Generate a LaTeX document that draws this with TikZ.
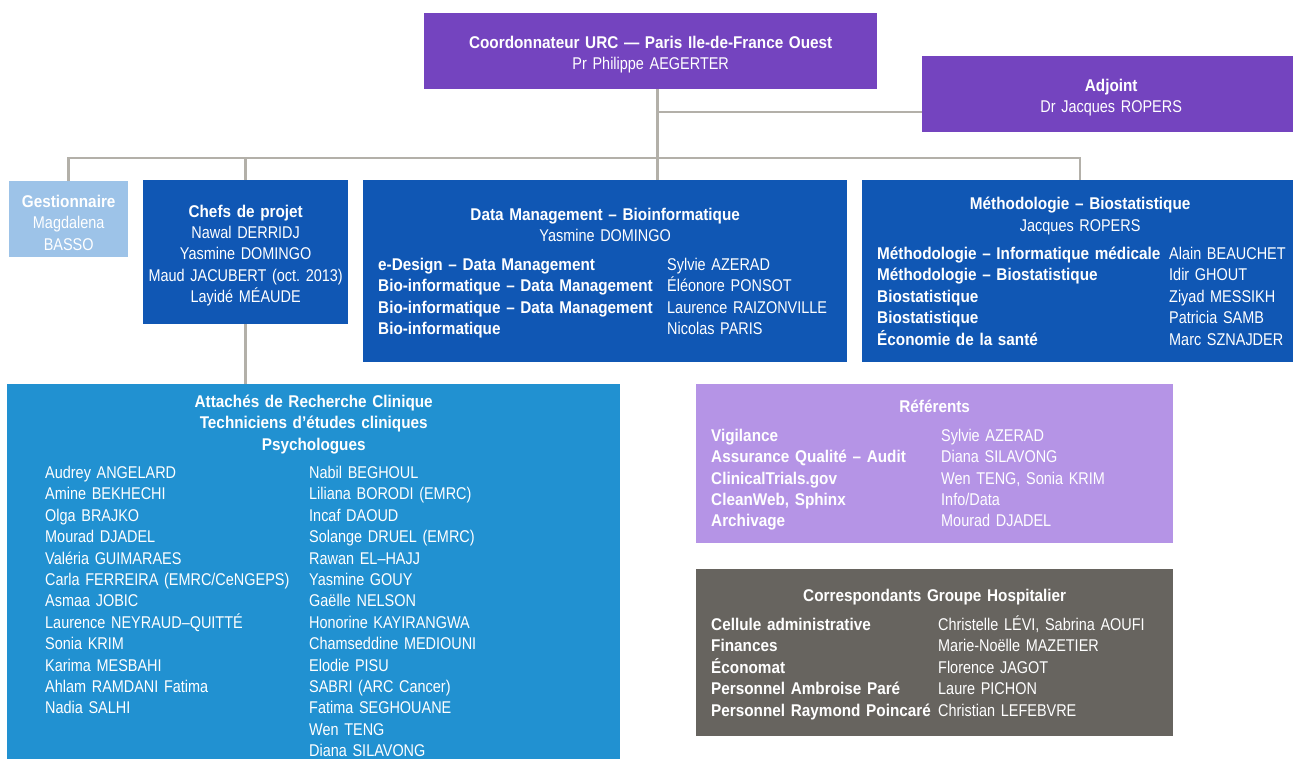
\documentclass[tikz,border=0pt]{standalone}
\usepackage{fontspec,array}
\setmainfont{Liberation Sans}[UprightFeatures={FakeStretch=0.85},BoldFeatures={FakeStretch=0.9}]
\usetikzlibrary{positioning}
\definecolor{urcpurple}{HTML}{7444BF}
\definecolor{urcblue}{HTML}{1057B4}
\definecolor{gestblue}{HTML}{9DC3E8}
\definecolor{arcblue}{HTML}{2191D1}
\definecolor{reflilac}{HTML}{B594E6}
\definecolor{corrgrey}{HTML}{67645F}
\definecolor{linkgrey}{HTML}{B3B0A9}
\newcommand\headstrut[1][19pt]{\rule{0pt}{#1}}

\begin{document}
\begin{tikzpicture}[x=1pt,y=-1pt,
 box/.style={fill=#1,text=white,inner sep=0pt,minimum height=76pt,align=center,
  font=\fontsize{17}{21.4}\selectfont,anchor=north west,execute at begin node=\headstrut},
 link/.style={draw=linkgrey,line width=2.5pt}]
\path[use as bounding box,fill=white] (0,0) rectangle (1293,758);
\node[box=urcpurple,minimum width=453pt,text width=453pt] (coord) at (424,13)
 {\textbf{Coordonnateur URC — Paris Ile-de-France Ouest}\\Pr Philippe AEGERTER};
\node[box=urcpurple,minimum width=378pt,text width=378pt] (adj) at (922,56) {\textbf{Adjoint}\\Dr Jacques ROPERS};
\node[box=gestblue,minimum width=119pt,text width=119pt,execute at begin node={\headstrut[15pt]}] (gest) at (9,181)
 {\textbf{Gestionnaire}\\Magdalena\\BASSO};
\node[box=urcblue,minimum width=205pt,text width=205pt,minimum height=144pt] (chefs) at (143,180)
 {\textbf{Chefs de projet}\\Nawal DERRIDJ\\Yasmine DOMINGO\\Maud JACUBERT (oct.\ 2013)\\Layidé MÉAUDE};
\node[box=urcblue,minimum width=484pt,minimum height=182pt,text width=454pt] (dm) at (363,180)
 {\textbf{Data Management – Bioinformatique}\\Yasmine DOMINGO\\[7pt]
 \makebox[454pt][l]{\begin{tabular}[t]{@{}>{\bfseries}p{289pt}@{}l@{}}
 e-Design – Data Management & Sylvie AZERAD\\
 Bio-informatique – Data Management & Éléonore PONSOT\\
 Bio-informatique – Data Management & Laurence RAIZONVILLE\\
 Bio-informatique & Nicolas PARIS
 \end{tabular}}};
\node[box=urcblue,minimum width=436pt,minimum height=182pt,text width=406pt] (meth) at (862,180)
 {\textbf{Méthodologie – Biostatistique}\\Jacques ROPERS\\[7pt]
 \makebox[406pt][l]{\begin{tabular}[t]{@{}>{\bfseries}p{292pt}@{}l@{}}
 Méthodologie – Informatique médicale & Alain BEAUCHET\\
 Méthodologie – Biostatistique & Idir GHOUT\\
 Biostatistique & Ziyad MESSIKH\\
 Biostatistique & Patricia SAMB\\
 Économie de la santé & Marc SZNAJDER
 \end{tabular}}};
\node[box=arcblue,minimum width=613pt,text width=537pt,inner ysep=4pt] (arc) at (7,384)
 {\textbf{Attachés de Recherche Clinique}\\\textbf{Techniciens d’études cliniques}\\\textbf{Psychologues}\\[7pt]
 \makebox[537pt][l]{\begin{tabular}[t]{@{}p{264pt}@{}l@{}}
 Audrey ANGELARD & Nabil BEGHOUL\\
 Amine BEKHECHI & Liliana BORODI (EMRC)\\
 Olga BRAJKO & Incaf DAOUD\\
 Mourad DJADEL & Solange DRUEL (EMRC)\\
 Valéria GUIMARAES & Rawan EL–HAJJ\\
 Carla FERREIRA (EMRC/CeNGEPS) & Yasmine GOUY\\
 Asmaa JOBIC & Gaëlle NELSON\\
 Laurence NEYRAUD–QUITTÉ & Honorine KAYIRANGWA\\
 Sonia KRIM & Chamseddine MEDIOUNI\\
 Karima MESBAHI & Elodie PISU\\
 Ahlam RAMDANI Fatima & SABRI (ARC Cancer)\\
 Nadia SALHI & Fatima SEGHOUANE\\
 & Wen TENG\\
 & Diana SILAVONG
 \end{tabular}}};
\node[box=reflilac,minimum width=477pt,minimum height=159pt,text width=447pt] (ref) at (696,384)
 {\textbf{Référents}\\[7pt]
 \makebox[447pt][l]{\begin{tabular}[t]{@{}>{\bfseries}p{230pt}@{}l@{}}
 Vigilance & Sylvie AZERAD\\
 Assurance Qualité – Audit & Diana SILAVONG\\
 ClinicalTrials.gov & Wen TENG, Sonia KRIM\\
 CleanWeb, Sphinx & Info/Data\\
 Archivage & Mourad DJADEL
 \end{tabular}}};
\node[box=corrgrey,minimum width=477pt,minimum height=167pt,text width=447pt] (corr) at (696,569)
 {\textbf{Correspondants Groupe Hospitalier}\\[7pt]
 \makebox[447pt][l]{\begin{tabular}[t]{@{}>{\bfseries}p{227pt}@{}l@{}}
 Cellule administrative & Christelle LÉVI, Sabrina AOUFI\\
 Finances & Marie-Noëlle MAZETIER\\
 Économat & Florence JAGOT\\
 Personnel Ambroise Paré & Laure PICHON\\
 Personnel Raymond Poincaré & Christian LEFEBVRE
 \end{tabular}}};
\coordinate (spine) at (657.5,158);
\coordinate (tap) at (657.5,112);
\draw[link] (coord.south -| spine)--(dm.north -| spine);
\draw[link] (tap)--(tap -| adj.west);
\draw[link] (gest.north) |- (spine) -| (meth.north);
\draw[link] (chefs.north)--(chefs.north |- spine);
\draw[link] (chefs.south)--(chefs.south |- arc.north);
\end{tikzpicture}
\end{document}
